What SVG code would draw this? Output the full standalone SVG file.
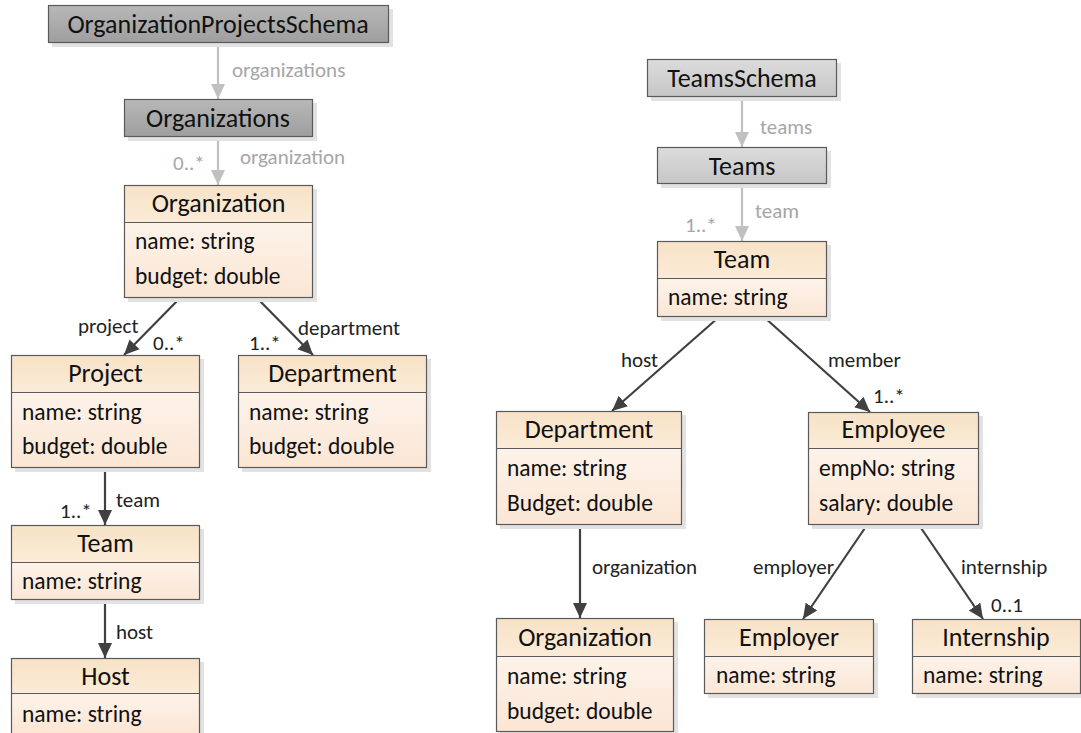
<svg xmlns="http://www.w3.org/2000/svg" width="1081" height="733" viewBox="0 0 1081 733">
  <defs>
    <linearGradient id="gHead" x1="0" y1="0" x2="0" y2="1">
      <stop offset="0" stop-color="#f7e2c6"/>
      <stop offset="1" stop-color="#fbebd7"/>
    </linearGradient>
    <linearGradient id="gBody" x1="0" y1="0" x2="0" y2="1">
      <stop offset="0" stop-color="#fdf3ea"/>
      <stop offset="1" stop-color="#fbe6d4"/>
    </linearGradient>
    <linearGradient id="gDark" x1="0" y1="0" x2="0" y2="1">
      <stop offset="0" stop-color="#b8b8b8"/>
      <stop offset="1" stop-color="#9e9e9e"/>
    </linearGradient>
    <linearGradient id="gLight" x1="0" y1="0" x2="0" y2="1">
      <stop offset="0" stop-color="#dcdcdc"/>
      <stop offset="1" stop-color="#c6c6c6"/>
    </linearGradient>
    <marker id="arrDark" markerUnits="userSpaceOnUse" markerWidth="16" markerHeight="16" viewBox="0 0 16 16" refX="15" refY="8" orient="auto">
      <path d="M0,1 L15,8 L0,15 Z" fill="#404040"/>
    </marker>
    <marker id="arrGray" markerUnits="userSpaceOnUse" markerWidth="16" markerHeight="16" viewBox="0 0 16 16" refX="15" refY="8" orient="auto">
      <path d="M0,1 L15,8 L0,15 Z" fill="#c0c0c0"/>
    </marker>
  </defs>
  <style>
    text { font-family: Carlito, Lato, "Liberation Sans", sans-serif; font-size: 23.5px; fill: #111; }
    .title { text-anchor: middle; font-size: 26px; }
    .lbl { font-size: 21px; fill: #222; }
    .glbl { font-size: 21px; fill: #a6a6a6; }
    .shadow { fill: #e2e2e2; }
    .edge { stroke: #5a5a5a; stroke-width: 1.2; }
    .head { fill: url(#gHead); }
    .body { fill: url(#gBody); }
    .dark { fill: url(#gDark); }
    .light { fill: url(#gLight); }
    .frame { fill: none; stroke: #5a5a5a; stroke-width: 1.2; }
    .c { fill: none; stroke: #404040; stroke-width: 2.2; marker-end: url(#arrDark); }
    .cg { fill: none; stroke: #c0c0c0; stroke-width: 2.2; marker-end: url(#arrGray); }
  </style>

  <rect width="1081" height="733" fill="#ffffff"/>

  <!-- connectors -->
  <g id="connectors">
    <line class="cg" x1="218" y1="43" x2="218" y2="99"/>
    <line class="cg" x1="218" y1="137" x2="218" y2="185"/>
    <line class="c" x1="180" y1="298" x2="124" y2="355"/>
    <line class="c" x1="257" y1="298" x2="313" y2="355"/>
    <line class="c" x1="105" y1="468" x2="105" y2="525"/>
    <line class="c" x1="105" y1="600" x2="105" y2="658"/>

    <line class="cg" x1="742" y1="97" x2="742" y2="147"/>
    <line class="cg" x1="742" y1="184" x2="742" y2="241"/>
    <line class="c" x1="719" y1="317" x2="612" y2="411"/>
    <line class="c" x1="764" y1="317" x2="870" y2="412"/>
    <line class="c" x1="580" y1="525" x2="580" y2="618"/>
    <line class="c" x1="867" y1="525" x2="803" y2="619"/>
    <line class="c" x1="919" y1="525" x2="983" y2="619"/>

    <text class="glbl" x="232" y="77">organizations</text>
    <text class="glbl" x="240" y="164">organization</text>
    <text class="glbl" x="173" y="170">0..*</text>
    <text class="lbl" x="78" y="333">project</text>
    <text class="lbl" x="153" y="350">0..*</text>
    <text class="lbl" x="298" y="335">department</text>
    <text class="lbl" x="249" y="350">1..*</text>
    <text class="lbl" x="116" y="507">team</text>
    <text class="lbl" x="60" y="518">1..*</text>
    <text class="lbl" x="116" y="639">host</text>

    <text class="glbl" x="760" y="134">teams</text>
    <text class="glbl" x="755" y="218">team</text>
    <text class="glbl" x="685" y="232">1..*</text>
    <text class="lbl" x="621" y="367">host</text>
    <text class="lbl" x="828" y="367">member</text>
    <text class="lbl" x="873" y="403">1..*</text>
    <text class="lbl" x="592" y="574">organization</text>
    <text class="lbl" x="753" y="574">employer</text>
    <text class="lbl" x="961" y="574">internship</text>
    <text class="lbl" x="991" y="612">0..1</text>
  </g>

  <!-- schema roots -->
  <g id="OrganizationProjectsSchema">
    <rect class="shadow" x="52" y="9" width="341" height="38"/>
    <rect class="dark" x="48" y="5" width="341" height="38"/>
    <rect class="frame" x="48.5" y="5.5" width="340" height="37"/>
    <text class="title" x="218" y="33">OrganizationProjectsSchema</text>
  </g>
  <g id="Organizations">
    <rect class="shadow" x="128" y="103" width="189" height="38"/>
    <rect class="dark" x="124" y="99" width="189" height="38"/>
    <rect class="frame" x="124.5" y="99.5" width="188" height="37"/>
    <text class="title" x="218" y="127">Organizations</text>
  </g>
  <g id="TeamsSchema">
    <rect class="shadow" x="651" y="63" width="190" height="38"/>
    <rect class="light" x="647" y="59" width="190" height="38"/>
    <rect class="frame" x="647.5" y="59.5" width="189" height="37"/>
    <text class="title" x="742" y="87">TeamsSchema</text>
  </g>
  <g id="Teams">
    <rect class="shadow" x="661" y="151" width="170" height="37"/>
    <rect class="light" x="657" y="147" width="170" height="37"/>
    <rect class="frame" x="657.5" y="147.5" width="169" height="36"/>
    <text class="title" x="742" y="175">Teams</text>
  </g>

  <!-- classes of the projects schema -->
  <g id="Organization1">
    <rect class="shadow" x="128" y="189" width="189" height="113"/>
    <rect class="head" x="124" y="185" width="189" height="37"/>
    <rect class="body" x="124" y="222" width="189" height="76"/>
    <rect class="frame" x="124.5" y="185.5" width="188" height="112"/>
    <line class="edge" x1="124" y1="222.5" x2="313" y2="222.5"/>
    <text class="title" x="218.5" y="212">Organization</text>
    <text x="135" y="249">name: string</text>
    <text x="135" y="284">budget: double</text>
  </g>
  <g id="Project">
    <rect class="shadow" x="15" y="359" width="189" height="113"/>
    <rect class="head" x="11" y="355" width="189" height="37"/>
    <rect class="body" x="11" y="392" width="189" height="76"/>
    <rect class="frame" x="11.5" y="355.5" width="188" height="112"/>
    <line class="edge" x1="11" y1="392.5" x2="200" y2="392.5"/>
    <text class="title" x="105.5" y="382">Project</text>
    <text x="22" y="420">name: string</text>
    <text x="22" y="454">budget: double</text>
  </g>
  <g id="Department1">
    <rect class="shadow" x="242" y="359" width="189" height="113"/>
    <rect class="head" x="238" y="355" width="189" height="37"/>
    <rect class="body" x="238" y="392" width="189" height="76"/>
    <rect class="frame" x="238.5" y="355.5" width="188" height="112"/>
    <line class="edge" x1="238" y1="392.5" x2="427" y2="392.5"/>
    <text class="title" x="332.5" y="382">Department</text>
    <text x="249" y="420">name: string</text>
    <text x="249" y="454">budget: double</text>
  </g>
  <g id="Team1">
    <rect class="shadow" x="15" y="529" width="189" height="75"/>
    <rect class="head" x="11" y="525" width="189" height="37"/>
    <rect class="body" x="11" y="562" width="189" height="38"/>
    <rect class="frame" x="11.5" y="525.5" width="188" height="74"/>
    <line class="edge" x1="11" y1="562.5" x2="200" y2="562.5"/>
    <text class="title" x="105.5" y="552">Team</text>
    <text x="22" y="589">name: string</text>
  </g>
  <g id="Host">
    <rect class="shadow" x="15" y="662" width="189" height="75"/>
    <rect class="head" x="11" y="658" width="189" height="35"/>
    <rect class="body" x="11" y="693" width="189" height="40"/>
    <rect class="frame" x="11.5" y="658.5" width="188" height="80"/>
    <line class="edge" x1="11" y1="693.5" x2="200" y2="693.5"/>
    <text class="title" x="105.5" y="685">Host</text>
    <text x="22" y="722">name: string</text>
  </g>

  <!-- classes of the teams schema -->
  <g id="Team2">
    <rect class="shadow" x="661" y="245" width="170" height="76"/>
    <rect class="head" x="657" y="241" width="170" height="37"/>
    <rect class="body" x="657" y="278" width="170" height="39"/>
    <rect class="frame" x="657.5" y="241.5" width="169" height="75"/>
    <line class="edge" x1="657" y1="278.5" x2="827" y2="278.5"/>
    <text class="title" x="742" y="268">Team</text>
    <text x="668" y="305">name: string</text>
  </g>
  <g id="Department2">
    <rect class="shadow" x="500" y="415" width="186" height="114"/>
    <rect class="head" x="496" y="411" width="186" height="37"/>
    <rect class="body" x="496" y="448" width="186" height="77"/>
    <rect class="frame" x="496.5" y="411.5" width="185" height="113"/>
    <line class="edge" x1="496" y1="448.5" x2="682" y2="448.5"/>
    <text class="title" x="589" y="438">Department</text>
    <text x="507" y="476">name: string</text>
    <text x="507" y="511">Budget: double</text>
  </g>
  <g id="Employee">
    <rect class="shadow" x="812" y="416" width="171" height="113"/>
    <rect class="head" x="808" y="412" width="171" height="36"/>
    <rect class="body" x="808" y="448" width="171" height="77"/>
    <rect class="frame" x="808.5" y="412.5" width="170" height="112"/>
    <line class="edge" x1="808" y1="448.5" x2="979" y2="448.5"/>
    <text class="title" x="893.5" y="438">Employee</text>
    <text x="819" y="476">empNo: string</text>
    <text x="819" y="511">salary: double</text>
  </g>
  <g id="Organization2">
    <rect class="shadow" x="500" y="622" width="178" height="115"/>
    <rect class="head" x="496" y="618" width="178" height="38"/>
    <rect class="body" x="496" y="656" width="178" height="76"/>
    <rect class="frame" x="496.5" y="618.5" width="177" height="113"/>
    <line class="edge" x1="496" y1="656.5" x2="674" y2="656.5"/>
    <text class="title" x="585" y="646">Organization</text>
    <text x="507" y="684">name: string</text>
    <text x="507" y="719">budget: double</text>
  </g>
  <g id="Employer">
    <rect class="shadow" x="708" y="623" width="170" height="75"/>
    <rect class="head" x="704" y="619" width="170" height="37"/>
    <rect class="body" x="704" y="656" width="170" height="38"/>
    <rect class="frame" x="704.5" y="619.5" width="169" height="74"/>
    <line class="edge" x1="704" y1="656.5" x2="874" y2="656.5"/>
    <text class="title" x="789" y="646">Employer</text>
    <text x="716" y="683">name: string</text>
  </g>
  <g id="Internship">
    <rect class="shadow" x="916" y="623" width="170" height="75"/>
    <rect class="head" x="912" y="619" width="170" height="37"/>
    <rect class="body" x="912" y="656" width="170" height="38"/>
    <rect class="frame" x="912.5" y="619.5" width="168" height="74"/>
    <line class="edge" x1="912" y1="656.5" x2="1081" y2="656.5"/>
    <text class="title" x="996" y="646">Internship</text>
    <text x="923" y="683">name: string</text>
  </g>
</svg>
